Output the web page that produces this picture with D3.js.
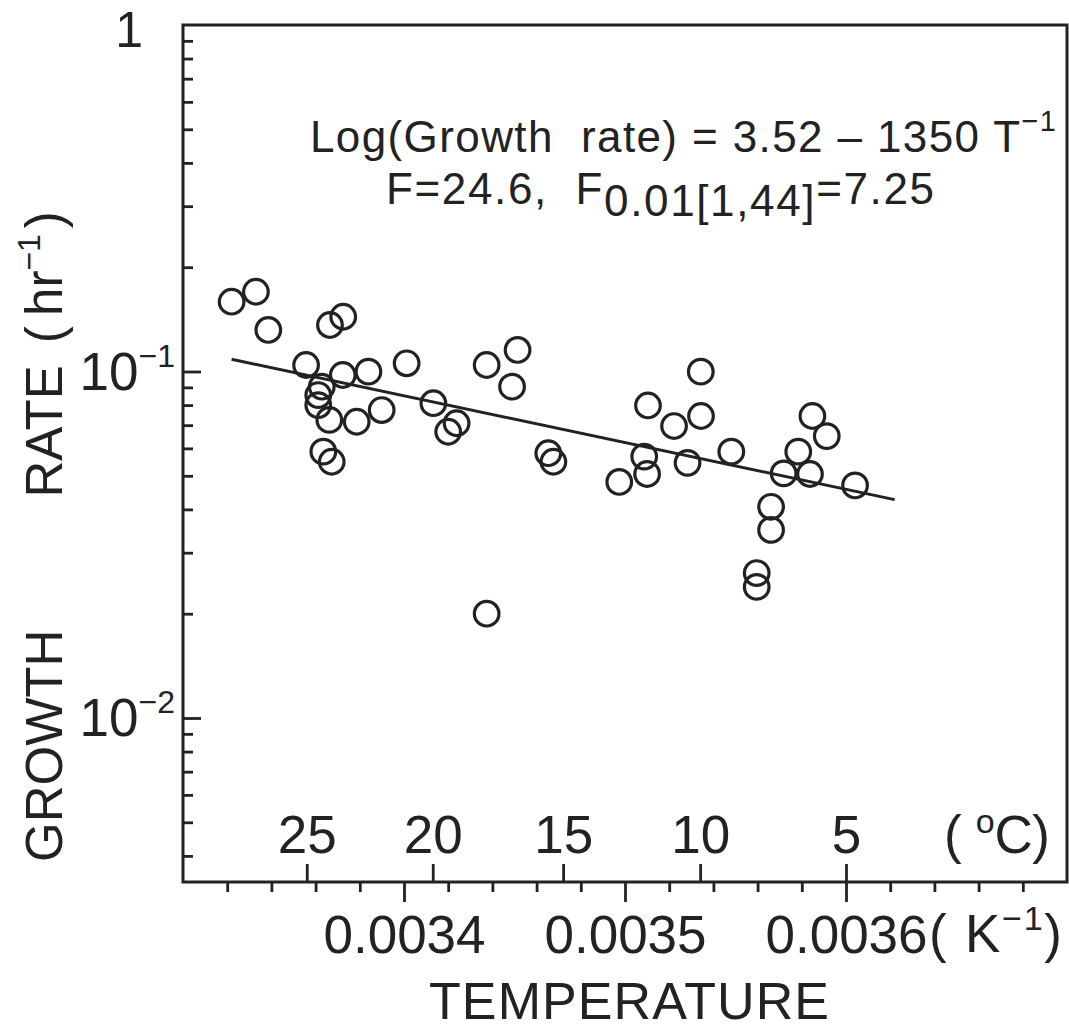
<!DOCTYPE html>
<html>
<head>
<meta charset="utf-8">
<script src="https://cdn.jsdelivr.net/npm/d3@7"></script>
<style>
  body { margin: 0; background: #fff; }
  svg { display: block; font-family: "Liberation Sans", Arial, Helvetica, sans-serif; }
  text { fill: #222; }
</style>
</head>
<body>
<div id="chart"></div>
<script>
// Growth rate vs inverse temperature (Arrhenius plot)

// data: 1/T (K^-1) and growth rate (hr^-1)
var invTemp = [
	0.003322, 0.003333, 0.0033386, 0.0033665, 0.0033725, 0.0033557, 0.0033723, 0.0033839,
	0.0033628, 0.0033612, 0.0033612, 0.0033662, 0.0033786, 0.0033899, 0.0034012, 0.0034133,
	0.0034238, 0.0034200, 0.0033635, 0.0033673, 0.0034374, 0.0034514, 0.0034489, 0.0034374,
	0.0034653, 0.0034676, 0.0035104, 0.0035343, 0.0035344, 0.0035222, 0.0035087, 0.0035100,
	0.0034974, 0.0035283, 0.0035481, 0.0035848, 0.0035913, 0.0035784, 0.0035718, 0.0035837,
	0.0036041, 0.0035661, 0.0035661, 0.0035596, 0.0035596
];
var growthRate = [
	0.1590, 0.1699, 0.1318, 0.1362, 0.1439, 0.1044, 0.0977, 0.0999,
	0.0904, 0.0855, 0.0800, 0.0725, 0.0716, 0.0774, 0.1056, 0.0810,
	0.0709, 0.0670, 0.0587, 0.0549, 0.1044, 0.1154, 0.0904, 0.0200,
	0.0581, 0.0549, 0.0798, 0.0999, 0.0744, 0.0696, 0.0568, 0.0506,
	0.0480, 0.0545, 0.0587, 0.0744, 0.0651, 0.0587, 0.0508, 0.0506,
	0.0469, 0.0407, 0.0349, 0.0262, 0.0239
];

// regression: log10(rate) = 3.52 - 1350 / T
var fitIntercept = 3.52, fitSlope = -1350;
var fitRange = [0.003322, 0.003622];

// axis ticks
var xMajorTicks = [0.0034, 0.0035, 0.0036];
var celsiusLabels = ["25", "20", "15", "10", "5"];
var celsiusTicks = [0.003356, 0.003413, 0.003472, 0.003534, 0.0036];
var yLabelTicks = [1, 0.1, 0.01];

var width = 1069, height = 1030;
var margin = {top: 25, right: 2, bottom: 148, left: 183};

var svg = d3.select("#chart").append("svg")
	.attr("width", width)
	.attr("height", height);

svg.append("rect").attr("width", width).attr("height", height).attr("fill", "#fff");

var x = d3.scaleLinear()
	.domain([0.0033, 0.0037])
	.range([margin.left, width - margin.right]);
var y = d3.scaleLog()
	.domain([Math.pow(10, -2.4733), 1])
	.range([height - margin.bottom, margin.top]);

var x0 = x.range()[0], x1 = x.range()[1];
var y0 = y.range()[0], y1 = y.range()[1];
var ink = "#222";

// y axis ticks, pointing inward
var yMinor = y.ticks().filter(function(d) {
	var m = d / Math.pow(10, Math.floor(Math.log10(d) + 1e-9));
	return Math.abs(m - 1) > 1e-6;
});
svg.append("g")
	.attr("transform", "translate(" + x0 + ",0)")
	.call(d3.axisRight(y).tickValues(yMinor).tickSize(10).tickFormat(""));
svg.append("g")
	.attr("transform", "translate(" + x0 + ",0)")
	.call(d3.axisRight(y).tickValues([0.1, 0.01]).tickSize(18).tickFormat(""));

// bottom axis: 1/T
var xMinor = x.ticks(20).filter(function(d) {
	return d > 0.00331 && d < 0.00369 && xMajorTicks.every(function(m) { return Math.abs(m - d) > 1e-7; });
});
svg.append("g")
	.attr("transform", "translate(0," + y0 + ")")
	.call(d3.axisBottom(x).tickValues(xMinor).tickSize(10).tickFormat(""));
svg.append("g")
	.attr("class", "xmajor")
	.attr("transform", "translate(0," + y0 + ")")
	.call(d3.axisBottom(x).tickValues(xMajorTicks).tickSize(20).tickPadding(13)
		.tickFormat(d3.format(".4f")));

// celsius ticks pointing up from bottom axis
svg.append("g")
	.attr("class", "celsius")
	.attr("transform", "translate(0," + y0 + ")")
	.call(d3.axisTop(x).tickValues(celsiusTicks).tickSize(18).tickPadding(11)
		.tickFormat(function(d, i) { return celsiusLabels[i]; }));

svg.selectAll(".domain").remove();
svg.selectAll(".tick line").attr("stroke", ink).attr("stroke-width", 2.8);
svg.selectAll(".xmajor text, .celsius text")
	.attr("font-size", 53).attr("font-family", "Liberation Sans, Arial, sans-serif")
	.attr("fill", ink);
svg.selectAll(".xmajor text").attr("dy", "0.71em");

// frame
svg.append("rect")
	.attr("x", x0).attr("y", y1)
	.attr("width", x1 - x0).attr("height", y0 - y1)
	.attr("fill", "none").attr("stroke", ink).attr("stroke-width", 3);

// unit labels on the x axes
var cUnit = svg.append("text")
	.attr("x", x(0.0036) + 98).attr("y", y0 - 29)
	.attr("font-size", 53)
	.attr("textLength", 106);
cUnit.append("tspan").text("( ");
cUnit.append("tspan").attr("font-size", 34).attr("dy", -20).text("o");
cUnit.append("tspan").attr("dy", 20).text("C)");

var kUnit = svg.append("text")
	.attr("x", x(0.0036) + 83).attr("y", y0 + 70)
	.attr("font-size", 53)
	.attr("textLength", 133);
kUnit.append("tspan").text("( K");
kUnit.append("tspan").attr("font-size", 34).attr("dy", -22).text("\u22121");
kUnit.append("tspan").attr("dy", 22).text(")");

// y tick labels
yLabelTicks.forEach(function(v) {
	var t = svg.append("text")
		.attr("text-anchor", "end")
		.attr("font-size", 53);
	if (v === 1) {
		t.attr("x", x0 - 40).attr("y", y(v) + 22).attr("font-size", 50).text("1");
	} else {
		t.attr("x", x0 - 8).attr("y", y(v) + 18);
		t.append("tspan").text("10");
		t.append("tspan").attr("font-size", 32).attr("dy", -23).text("\u2212" + Math.round(-Math.log10(v)));
	}
});

// axis titles
svg.append("text")
	.attr("x", 629).attr("y", height - 11)
	.attr("text-anchor", "middle")
	.attr("font-size", 52)
	.attr("textLength", 400)
	.text("TEMPERATURE");

var yTitle = svg.append("text")
	.attr("transform", "translate(62,862) rotate(-90)")
	.attr("font-size", 51);
yTitle.append("tspan").text("GROWTH");
yTitle.append("tspan").attr("dx", 118).text(" RATE");
yTitle.append("tspan").attr("dx", 8).text(" (");
yTitle.append("tspan").attr("dx", -4).text(" hr");
yTitle.append("tspan").attr("font-size", 32).attr("dy", -22).text("\u22121");
yTitle.append("tspan").attr("dy", 22).attr("dx", 6).text(")");

// regression line
var fit = fitRange.map(function(v) { return [v, Math.pow(10, fitIntercept + fitSlope * v)]; });
svg.append("path")
	.datum(fit)
	.attr("d", d3.line().x(function(d) { return x(d[0]); }).y(function(d) { return y(d[1]); }))
	.attr("fill", "none")
	.attr("stroke", ink)
	.attr("stroke-width", 3);

// data points
svg.selectAll(".pt")
	.data(invTemp.map(function(v, i) { return [v, growthRate[i]]; }))
	.enter().append("circle")
	.attr("class", "pt")
	.attr("cx", function(d) { return x(d[0]); })
	.attr("cy", function(d) { return y(d[1]); })
	.attr("r", 12.3)
	.attr("fill", "none")
	.attr("stroke", ink)
	.attr("stroke-width", 3.2);

// regression annotation
var eq = svg.append("text")
	.attr("x", 310).attr("y", 152)
	.attr("font-size", 44)
	.attr("textLength", 746)
	.attr("lengthAdjust", "spacing")
	.style("white-space", "pre");
eq.append("tspan").text("Log(Growth  rate) = 3.52 \u2013 1350 T");
eq.append("tspan").attr("font-size", 29).attr("dy", -21).text("\u22121");

var ft = svg.append("text")
	.attr("x", 386).attr("y", 204)
	.attr("font-size", 44)
	.attr("textLength", 548)
	.attr("lengthAdjust", "spacing")
	.style("white-space", "pre");
ft.append("tspan").text("F=24.6,  F");
ft.append("tspan").attr("dy", 12).text("0.01[1,44]");
ft.append("tspan").attr("dy", -12).text("=7.25");
</script>
</body>
</html>
